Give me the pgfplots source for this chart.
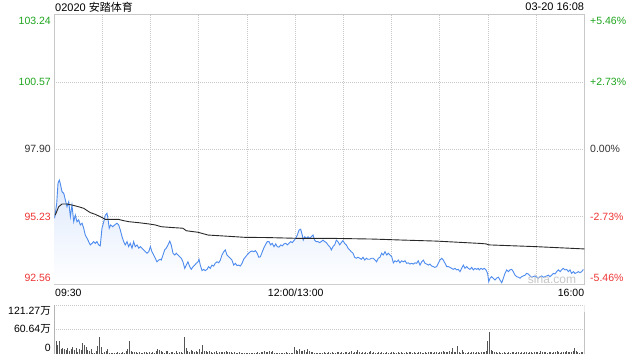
\documentclass[border=0pt]{standalone}
\usepackage{fontspec}
\setmainfont{Liberation Sans}
\newfontfamily\cjk{Noto Sans CJK SC}
\usepackage{pgfplots}
\usepackage{pgfplotstable}
\pgfplotsset{compat=1.18}
\definecolor{pline}{RGB}{77,139,238}
\definecolor{upg}{RGB}{30,165,30}
\definecolor{dnr}{RGB}{238,52,52}
\definecolor{gridc}{RGB}{200,200,200}
\definecolor{bord}{RGB}{200,200,200}
\definecolor{volc}{RGB}{85,85,85}
\definecolor{fillc}{RGB}{222,233,252}
\definecolor{avgc}{RGB}{40,40,40}

\pgfplotstableread{
m p
0.2 95.16
1.5 95.76
2.3 96.55
3.1 96.68
3.7 96.55
4.8 96.22
5.9 96.15
6.9 95.89
7.9 95.62
9.0 95.82
10.0 95.23
11.0 95.69
12.1 95.03
13.1 95.29
14.1 95.03
15.2 95.10
16.2 94.90
17.3 94.97
18.3 94.77
19.3 94.50
20.4 94.37
21.4 94.24
22.4 94.11
23.5 94.17
24.5 94.24
25.5 94.17
26.6 94.24
27.6 94.11
28.6 94.07
29.7 94.77
30.8 95.03
31.8 95.29
32.8 95.36
33.4 95.16
34.2 94.77
35.1 94.90
36.4 94.83
37.6 94.90
39.0 94.97
40.1 94.90
41.1 94.70
42.2 94.43
43.2 94.24
44.2 94.11
45.3 94.24
46.3 94.04
47.3 94.17
48.4 93.98
49.4 94.24
50.4 94.04
51.5 94.11
52.6 93.98
53.6 94.04
54.6 93.98
55.7 93.91
56.7 93.84
57.7 93.78
58.8 93.84
59.8 94.04
60.8 93.84
61.9 93.71
62.9 93.58
63.9 93.44
65.0 93.51
66.0 93.54
66.6 93.51
67.7 93.71
68.7 93.91
69.7 93.98
70.8 94.11
71.9 94.26
72.8 94.11
73.9 93.78
75.0 93.71
76.0 93.78
77.0 93.71
78.1 93.64
79.1 93.58
80.1 93.44
81.2 93.18
82.2 93.31
83.2 93.44
84.3 93.25
85.3 93.14
86.4 93.25
87.4 93.31
88.4 93.38
89.5 93.44
90.1 93.54
90.9 93.31
92.0 93.09
93.0 93.14
94.0 93.09
95.1 93.14
96.1 93.25
97.1 93.18
98.2 93.31
99.2 93.27
100.2 93.38
101.3 93.44
102.4 93.40
103.4 93.51
104.4 93.71
105.5 93.84
106.5 93.91
107.5 93.71
108.6 93.64
109.6 93.58
110.6 93.51
111.7 93.31
112.7 93.38
113.8 93.29
114.8 93.31
115.8 93.27
116.9 93.38
117.9 93.54
118.9 93.62
120.0 93.71
121.0 93.78
122.0 93.84
123.1 93.87
124.2 93.84
125.2 93.88
126.2 93.80
127.3 93.62
128.3 93.64
129.3 93.80
130.4 93.98
131.4 94.11
132.6 94.24
133.7 94.24
134.7 94.11
135.7 94.17
136.8 94.04
137.9 94.15
138.8 94.04
139.9 94.02
141.0 94.11
142.0 94.07
143.0 94.15
144.1 94.17
145.1 94.11
146.1 94.17
147.2 94.24
148.2 94.20
149.2 94.28
150.3 94.37
151.3 94.50
152.4 94.70
153.4 94.73
154.4 94.50
155.0 94.30
155.9 94.43
156.9 94.37
158.0 94.43
159.0 94.37
160.0 94.43
161.1 94.50
162.1 94.30
163.1 94.24
164.2 94.24
165.2 94.20
166.2 94.24
167.3 94.30
168.4 94.24
169.4 94.20
170.4 94.11
171.5 94.04
172.5 93.91
173.5 94.04
174.6 94.11
175.6 94.30
176.6 94.24
177.7 94.11
178.7 94.20
179.7 94.28
180.8 94.17
181.8 94.11
182.9 93.98
183.9 93.91
184.9 93.84
186.0 93.78
187.0 93.62
188.0 93.58
189.1 93.62
190.2 93.58
191.2 93.54
192.2 93.62
193.3 93.51
194.3 93.58
195.3 93.54
196.4 93.54
197.4 93.58
198.6 93.58
199.7 93.51
200.7 93.44
201.7 93.58
202.8 93.62
203.8 93.78
204.8 93.71
205.9 93.84
207.0 93.71
208.0 93.78
209.0 93.71
210.1 93.64
211.1 93.40
212.1 93.48
213.2 93.44
214.2 93.51
215.2 93.40
216.3 93.48
217.3 93.44
218.4 93.48
219.4 93.38
220.4 93.40
221.5 93.35
222.5 93.38
223.5 93.35
224.6 93.40
225.6 93.38
226.6 93.48
227.7 93.31
228.7 93.44
229.8 93.51
230.8 93.38
231.9 93.35
232.9 93.31
233.9 93.35
235.0 93.27
236.0 93.25
237.0 93.22
238.1 93.25
239.1 93.38
240.1 93.51
241.2 93.58
242.2 93.51
243.3 93.38
244.3 93.25
245.3 93.25
246.4 93.22
247.4 93.18
248.4 93.14
249.5 93.18
250.5 93.12
251.5 93.14
252.6 93.05
253.6 93.18
254.7 93.31
255.7 93.18
256.8 93.25
257.8 93.18
258.8 93.14
259.9 93.22
260.9 93.12
261.9 93.18
263.0 93.14
264.0 93.18
264.6 93.12
265.7 93.18
266.7 93.14
267.7 93.18
268.8 93.12
269.8 92.98
270.5 92.65
271.3 92.79
272.3 92.85
273.3 92.79
274.4 92.72
275.4 92.79
276.5 92.83
277.5 92.72
278.6 92.61
279.6 92.79
280.6 92.98
281.7 93.12
282.7 93.05
283.7 93.12
284.8 93.14
285.8 93.05
286.9 92.91
287.9 92.85
288.9 92.83
290.0 92.79
291.0 92.85
292.0 92.88
293.1 92.91
294.1 92.98
295.1 92.96
296.2 92.88
297.2 92.83
298.2 92.85
299.3 92.88
300.4 92.83
301.4 92.79
302.4 92.85
303.5 92.88
304.5 92.83
305.5 92.85
306.6 92.88
307.6 92.91
308.6 92.85
309.7 92.91
310.7 92.98
311.8 92.96
312.8 93.05
313.8 93.12
314.9 93.05
315.9 93.12
316.9 93.18
318.0 93.12
319.0 93.14
320.1 93.05
321.1 93.12
322.1 92.98
323.2 93.05
324.2 92.98
325.3 93.01
326.3 93.05
327.3 93.01
328.4 93.05
329.4 93.14
}\price

\pgfplotstableread{
m a
0.6 95.29
2.7 95.62
4.8 95.73
7.9 95.73
11.0 95.69
15.2 95.62
18.3 95.56
20.4 95.47
22.4 95.39
25.5 95.32
28.6 95.23
31.8 95.12
36.0 95.12
40.1 95.12
43.2 95.07
46.3 95.03
52.6 94.99
58.8 94.94
62.9 94.90
66.6 94.83
72.8 94.80
80.1 94.77
82.2 94.67
89.5 94.61
95.7 94.50
106.1 94.46
118.5 94.41
133.0 94.40
151.3 94.37
172.0 94.37
199.0 94.34
217.3 94.30
238.1 94.26
264.6 94.17
268.8 94.15
270.5 94.11
300.0 94.04
330.0 93.95
}\avg

\pgfplotstableread[row sep=\\]{v\\121.27\\
31.5\\23.2\\33.2\\12.5\\14.9\\12.5\\10\\14.1\\8.3\\11.6\\
18.3\\10\\14.9\\5\\11.6\\10\\26.6\\21.6\\16.6\\10\\
7.5\\11.6\\3.3\\2.5\\8.3\\20.8\\43.2\\16.6\\2.5\\4.2\\
6.6\\12.5\\2.5\\2.5\\3.3\\3.3\\2.5\\4.2\\2.5\\3.3\\
5\\3.3\\8.3\\11.6\\31.5\\6.6\\4.2\\5.8\\4.2\\2.5\\
5\\3.3\\2.5\\5.8\\4.2\\3.3\\4.2\\3.3\\5.8\\3.3\\
6.6\\12.5\\10\\6.6\\5\\3.3\\8.3\\6.6\\3.3\\5\\
4.2\\3.3\\7.5\\2.5\\4.2\\5.8\\3.3\\41.5\\14.9\\6.6\\
5.8\\10\\6.6\\4.2\\6.6\\5\\11.6\\5\\22.4\\8.3\\
6.6\\4.2\\6.6\\4.2\\3.3\\5\\6.6\\3.3\\4.2\\5\\
5.8\\4.2\\7.5\\5\\4.2\\5\\3.3\\4.2\\3.3\\2.5\\
4.2\\2.5\\1.7\\3.3\\2.5\\3.3\\1.7\\1.7\\2.5\\3.3\\
2.5\\5.8\\3.3\\5\\4.2\\6.6\\5\\4.2\\6.6\\4.2\\
6.6\\3.3\\2.5\\1.7\\2.5\\3.3\\2.5\\1.7\\4.2\\2.5\\
2.5\\3.3\\3.3\\18.3\\10\\8.3\\11.6\\6.6\\8.3\\10\\
5\\11.6\\6.6\\4.2\\4.2\\3.3\\2.5\\3.3\\2.5\\
}\volA

\pgfplotstableread[row sep=\\]{v\\
3.3\\2.5\\4.1\\3.3\\2.5\\4.1\\3.3\\4.9\\2.5\\3.3\\
4.1\\5.7\\3.3\\4.1\\3.3\\5.7\\4.1\\3.3\\4.1\\6.5\\
3.3\\4.1\\4.9\\9.7\\4.1\\3.3\\5.7\\3.3\\4.1\\2.5\\
4.1\\6.5\\3.3\\4.1\\2.5\\3.3\\4.9\\3.3\\4.1\\2.5\\
3.3\\4.1\\3.3\\2.5\\4.9\\4.1\\3.3\\2.5\\4.1\\3.3\\
4.9\\3.3\\2.5\\4.1\\3.3\\4.1\\5.7\\3.3\\4.1\\2.5\\
3.3\\4.9\\4.1\\3.3\\2.5\\4.1\\3.3\\4.9\\5.7\\4.1\\
3.3\\4.1\\4.9\\3.3\\5.7\\4.1\\6.5\\4.9\\5.7\\4.1\\
8.1\\4.9\\14.6\\4.1\\5.7\\20.2\\4.9\\3.3\\9.7\\4.1\\
3.3\\2.5\\4.1\\3.3\\4.9\\4.1\\3.3\\5.7\\4.1\\3.3\\
4.9\\4.1\\5.7\\8.1\\32.4\\54.2\\9.7\\7.3\\4.1\\5.7\\
3.3\\4.1\\2.5\\3.3\\4.9\\3.3\\2.5\\4.1\\3.3\\4.9\\
4.1\\3.3\\5.7\\4.1\\3.3\\4.9\\2.5\\4.1\\5.7\\3.3\\
4.1\\4.9\\3.3\\5.7\\4.1\\4.9\\3.3\\6.5\\4.1\\4.9\\
5.7\\3.3\\4.1\\4.9\\3.3\\5.7\\4.1\\6.5\\4.9\\3.3\\
4.1\\5.7\\4.9\\6.5\\4.1\\5.7\\4.9\\8.1\\14.6\\6.5\\
4.1\\3.3\\5.7\\4.1\\105\\
}\volB

\begin{document}
\begin{tikzpicture}[every node/.style={font=\fontsize{10.5}{12}\selectfont, inner sep=0pt}]
\useasboundingbox (0,0) rectangle (640pt,360pt);
\begin{axis}[
  at={(54.3pt,76pt)}, anchor=south west, scale only axis,
  width=530pt, height=269.5pt,
  xmin=0, xmax=330, ymin=92.56, ymax=103.24,
  xtick={30,60,...,300}, ytick={95.23,97.90,100.57},
  xticklabels={}, yticklabels={},
  major tick length=0pt,
  grid=major,
  grid style={gridc, dash pattern=on 1pt off 1pt, line width=0.7pt},
  axis line style={bord, line width=0.8pt},
]
\addplot[draw=none, top color=fillc, bottom color=white, forget plot]
  table[x=m, y=p] {\price} |- (axis cs:0.2,92.56) -- cycle;
\addplot[pline, line width=0.9pt, no marks] table[x=m, y=p] {\price};
\addplot[avgc, line width=0.9pt, no marks] table[x=m, y=a] {\avg};
\end{axis}

\begin{axis}[
  at={(54.3pt,6pt)}, anchor=south west, scale only axis,
  width=530pt, height=49pt,
  xmin=0, xmax=330, ymin=0, ymax=121.27,
  xtick=\empty, ytick={60.64,121.27}, yticklabels={},
  major tick length=0pt,
  ymajorgrids,
  grid style={gridc, dash pattern=on 1pt off 1pt, line width=0.7pt},
  axis line style={draw=none},
]
\addplot[ycomb, volc, line width=0.9pt, no marks] table[x expr=\coordindex*1.038, y=v] {\volA};
\addplot[ycomb, volc, line width=0.9pt, no marks] table[x expr=\coordindex+166, y=v] {\volB};
\draw[bord, line width=0.8pt] (rel axis cs:0,0) -- (rel axis cs:0,1);
\draw[bord, line width=0.8pt] (rel axis cs:1,0) -- (rel axis cs:1,1);
\end{axis}

% header
\node[anchor=west] at (55pt,353pt) {\fontsize{11}{12}\selectfont 02020 {\cjk 安踏体育}};
\node[anchor=east] at (584.3pt,353pt) {\fontsize{11}{12}\selectfont 03-20 16:08};
% left price labels
\node[anchor=east, text=upg] at (51pt,339pt) {103.24};
\node[anchor=east, text=upg] at (51pt,278pt) {100.57};
\node[anchor=east, text=black!80] at (51pt,211pt) {97.90};
\node[anchor=east, text=dnr] at (51pt,143pt) {95.23};
\node[anchor=east, text=dnr] at (51pt,82pt) {92.56};
% right percent labels
\node[anchor=west, text=upg] at (590pt,339pt) {+5.46\%};
\node[anchor=west, text=upg] at (590pt,278pt) {+2.73\%};
\node[anchor=west, text=black!80] at (590pt,211pt) {0.00\%};
\node[anchor=west, text=dnr] at (590pt,143pt) {-2.73\%};
\node[anchor=west, text=dnr] at (590pt,82pt) {-5.46\%};
% time labels
\node[anchor=west] at (55pt,67pt) {09:30};
\node[anchor=center] at (295.7pt,67pt) {12:00/13:00};
\node[anchor=east] at (584.3pt,67pt) {16:00};
% volume labels
\node[anchor=east] at (51pt,49pt) {121.27{\cjk 万}};
\node[anchor=east] at (51pt,30.7pt) {60.64{\cjk 万}};
\node[anchor=east] at (51pt,12pt) {0};
% watermark
\node[text=black!22] at (552pt,81pt) {\fontsize{12}{12}\selectfont sina.com};
\end{tikzpicture}
\end{document}
